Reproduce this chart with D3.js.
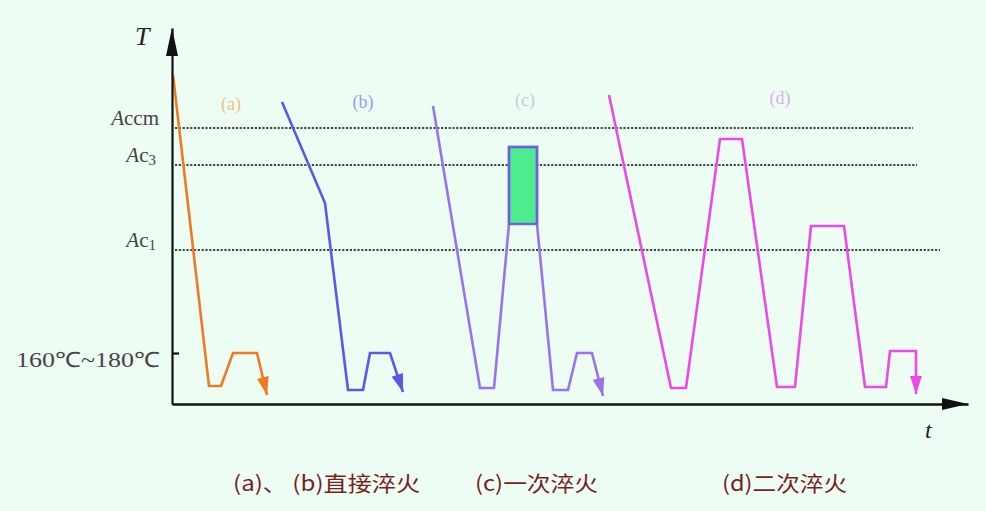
<!DOCTYPE html>
<html>
<head>
<meta charset="utf-8">
<script src="https://cdn.jsdelivr.net/npm/d3@7"></script>
<style>
    html, body { margin: 0; padding: 0; background: #edfdf3; }
    svg { display: block; }
</style>
</head>
<body>
<svg id="chart" width="986" height="511"></svg>
<script>
// critical temperature lines (time / temperature in arbitrary units)
const criticalSubs = ['ccm', 'c', 'c'];
const criticalIndex = ['', '3', '1'];
const criticalTemps = [276, 239, 154];
const criticalEnds = [741, 745, 768];
const temperTemp = 51;
const temperLabel = '160℃~180℃';

// process curves: [time, temperature]
const curveA = [[1, 329], [37, 18], [49, 18], [61, 51], [85, 51], [95, 9]];
const curveB = [[110, 302], [153, 201], [176, 14], [191, 14], [198, 51], [218, 51], [231, 12]];
const curveC = [[261, 298], [308, 16], [322, 16], [337, 180], [337, 257], [365, 257], [365, 180],
    [381, 14], [396, 14], [405, 51], [420, 51], [431, 8]];
const curveD = [[437, 309], [499, 16], [514, 16], [548, 265], [570, 265], [605, 17], [623, 17],
    [639, 178], [672, 178], [693, 17], [714, 17], [718, 53], [744, 53], [744, 10]];
const holdBox = [337, 365, 180, 257]; // t0, t1, T0, T1 of the green hold in (c)

const curveNames = ['(a)', '(b)', '(c)', '(d)'];
const curveNameAt = [[59, 294], [191, 296], [353, 298], [608, 300]];
const captions = ['(a)、 (b)直接淬火', '(c)一次淬火', '(d)二次淬火'];
const captionAt = [61, 303, 550];
const captionWidths = [187, 123, 125];

const curves = [curveA, curveB, curveC, curveD];
const colors = ['#f07a22', '#5a58ea', '#9a72ee', '#ec48ea'];
const nameColors = ['#f2c08c', '#9c9ce4', '#c4cce2', '#dcb0e2'];

const svg = d3.select('#chart');

const x = d3.scaleLinear().domain([0, 796]).range([172, 968]);
const y = d3.scaleLinear().domain([0, 376]).range([404, 28]);

svg.append('rect').attr('width', 986).attr('height', 511).attr('fill', '#edfdf3');

// dotted critical lines
svg.selectAll('.crit')
    .data(criticalTemps)
    .enter().append('line')
    .attr('x1', x(3))
    .attr('x2', (d, i) => x(criticalEnds[i]))
    .attr('y1', d => y(d))
    .attr('y2', d => y(d))
    .attr('stroke', '#3a4a40')
    .attr('stroke-width', 2.2)
    .attr('stroke-dasharray', '2.2,1.6');

// labels for the critical lines
const critLabels = svg.selectAll('.critLabel')
    .data(criticalTemps)
    .enter().append('text')
    .attr('x', (d, i) => i === 0 ? 159 : 156)
    .attr('y', d => y(d) - 3)
    .attr('text-anchor', 'end')
    .attr('font-family', 'Liberation Serif, serif')
    .attr('font-size', 21)
    .attr('fill', '#444');
critLabels.append('tspan').attr('font-style', 'italic').text('A');
critLabels.append('tspan').attr('font-style', 'normal').text((d, i) => criticalSubs[i]);
critLabels.append('tspan')
    .attr('font-size', 15)
    .attr('dy', 3)
    .text((d, i) => criticalIndex[i]);

// green hold box of curve (c)
svg.append('rect')
    .attr('x', x(holdBox[0]))
    .attr('y', y(holdBox[3]))
    .attr('width', x(holdBox[1]) - x(holdBox[0]))
    .attr('height', y(holdBox[2]) - y(holdBox[3]))
    .attr('fill', '#4ded8e');

// curves with arrow heads at the end
const line = d3.line().x(d => x(d[0])).y(d => y(d[1]));
curves.forEach(function(c, i) {
    svg.append('path')
        .datum(c)
        .attr('fill', 'none')
        .attr('stroke', colors[i])
        .attr('stroke-width', 2.6)
        .attr('d', line);

    const p = c[c.length - 2], q = c[c.length - 1];
    const px = x(p[0]), py = y(p[1]), qx = x(q[0]), qy = y(q[1]);
    const len = Math.hypot(qx - px, qy - py);
    const ux = (qx - px) / len, uy = (qy - py) / len;
    const bx = qx - ux * 18, by = qy - uy * 18;
    svg.append('path')
        .attr('d', `M${qx},${qy}L${bx - uy * 6},${by + ux * 6}L${bx + uy * 6},${by - ux * 6}Z`)
        .attr('fill', colors[i]);
});

svg.append('rect')
    .attr('x', x(holdBox[0]))
    .attr('y', y(holdBox[3]))
    .attr('width', x(holdBox[1]) - x(holdBox[0]))
    .attr('height', y(holdBox[2]) - y(holdBox[3]))
    .attr('fill', 'none')
    .attr('stroke', '#6a62e4')
    .attr('stroke-width', 2.4);

// curve names
svg.selectAll('.name')
    .data(curveNames)
    .enter().append('text')
    .attr('x', (d, i) => x(curveNameAt[i][0]))
    .attr('y', (d, i) => y(curveNameAt[i][1]))
    .attr('text-anchor', 'middle')
    .attr('font-family', 'Liberation Serif, serif')
    .attr('font-size', 18)
    .attr('fill', (d, i) => nameColors[i])
    .text(d => d);

// axes
svg.append('g')
    .attr('transform', `translate(${x(0)},0)`)
    .call(d3.axisLeft(y).tickValues([temperTemp]).tickSizeInner(-7).tickSizeOuter(0).tickFormat(''))
    .call(g => g.selectAll('path, line').attr('stroke', '#111').attr('stroke-width', 2.2));

svg.append('g')
    .attr('transform', `translate(0,${y(0)})`)
    .call(d3.axisBottom(x).tickValues([]).tickSizeOuter(0))
    .call(g => g.select('path').attr('stroke', '#111').attr('stroke-width', 2.6));

svg.append('path')
    .attr('d', `M${x(0)},${y(376)}L${x(0) - 6},${y(348)}L${x(0) + 6},${y(348)}Z`)
    .attr('fill', '#111');
svg.append('path')
    .attr('d', `M${x(796)},${y(0)}L${x(770)},${y(0) - 6}L${x(770)},${y(0) + 6}Z`)
    .attr('fill', '#111');

svg.append('text')
    .attr('x', 16).attr('y', y(temperTemp) + 14)
    .attr('textLength', 144).attr('lengthAdjust', 'spacingAndGlyphs')
    .attr('font-family', 'Liberation Serif, serif')
    .attr('font-size', 21)
    .attr('fill', '#444')
    .text(temperLabel);

svg.append('text')
    .attr('x', 135).attr('y', 45)
    .attr('font-family', 'Liberation Serif, serif')
    .attr('font-style', 'italic')
    .attr('font-size', 26)
    .attr('fill', '#222')
    .text('T');

svg.append('text')
    .attr('x', 925).attr('y', 438)
    .attr('font-family', 'Liberation Serif, serif')
    .attr('font-style', 'italic')
    .attr('font-size', 24)
    .attr('fill', '#222')
    .text('t');

// captions
svg.selectAll('.caption')
    .data(captions)
    .enter().append('text')
    .attr('x', (d, i) => x(captionAt[i]))
    .attr('y', 491)
    .attr('textLength', (d, i) => captionWidths[i])
    .attr('lengthAdjust', 'spacingAndGlyphs')
    .attr('font-family', 'Noto Sans CJK SC, sans-serif')
    .attr('font-size', 21)
    .attr('fill', '#7a1e1e')
    .text(d => d);
</script>
</body>
</html>
